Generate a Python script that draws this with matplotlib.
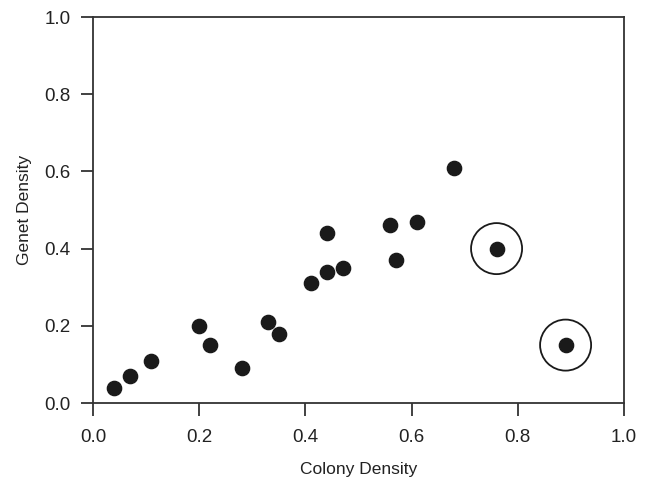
import numpy as np
import matplotlib.pyplot as plt

plt.rcParams['font.family'] = ['Liberation Sans', 'DejaVu Sans']

colony_density = [0.04, 0.07, 0.11, 0.20, 0.22, 0.28, 0.33, 0.35, 0.41, 0.44,
                  0.44, 0.47, 0.56, 0.57, 0.61, 0.68, 0.76, 0.89]
genet_density = [0.04, 0.07, 0.11, 0.20, 0.15, 0.09, 0.21, 0.18, 0.31, 0.44,
                 0.34, 0.35, 0.46, 0.37, 0.47, 0.61, 0.40, 0.15]
outliers = [16, 17]  # circled points
ticks = [0.0, 0.2, 0.4, 0.6, 0.8, 1.0]

fig = plt.figure(figsize=(6.49, 4.82), dpi=100)
ax = fig.add_axes([0.1433, 0.1639, 0.8182, 0.8008])

ax.scatter(colony_density, genet_density, s=105, color='#1a1a1a', zorder=3)
ax.scatter([colony_density[i] for i in outliers], [genet_density[i] for i in outliers],
           s=1350, facecolors='none', edgecolors='#1a1a1a', linewidths=1.3, zorder=2)

ax.set_xlim(0, 1)
ax.set_ylim(0, 1)
ax.set_xticks(ticks)
ax.set_yticks(ticks)
ax.set_xticklabels([f'{t:.1f}' for t in ticks])
ax.set_yticklabels([f'{t:.1f}' for t in ticks])
ax.tick_params(direction='out', length=9, width=1.3, color='#333333',
               labelsize=13.5, labelcolor='#222222')
ax.tick_params(axis='x', pad=10)
ax.tick_params(axis='y', pad=7)
for sp in ax.spines.values():
    sp.set_linewidth(1.3)
    sp.set_color('#333333')

ax.set_xlabel('Colony Density', fontsize=12.5, color='#222222', labelpad=11)
ax.set_ylabel('Genet Density', fontsize=12.5, color='#222222', labelpad=9)

fig.savefig('out.png', dpi=100)
